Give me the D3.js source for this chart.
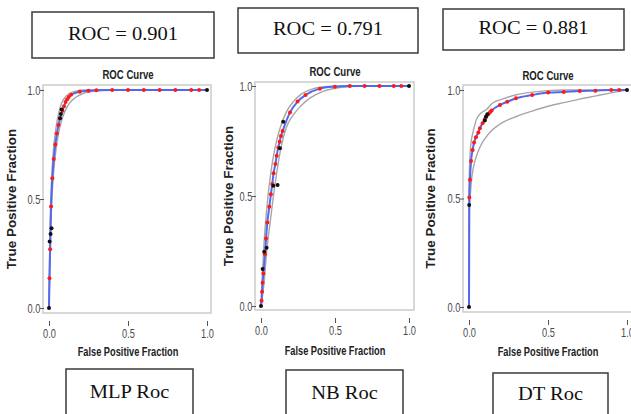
<!DOCTYPE html>
<html>
<head>
<meta charset="utf-8">
<script src="https://cdn.jsdelivr.net/npm/d3@7"></script>
<style>
  body { margin: 0; background: #fff; }
  svg { display: block; }
</style>
</head>
<body>
<svg id="chart"></svg>
<script>
// ---- data ----
const tickValues = [0, 0.5, 1];
const tickLabels = ["0.0", "0.5", "1.0"];
const rocLabels = ["ROC = 0.901", "ROC = 0.791", "ROC = 0.881"];
const modelLabels = ["MLP Roc", "NB Roc", "DT Roc"];

// MLP: [fpr, tpr]
const mlpRed = [[0.003,0.137],[0.007,0.27],[0.013,0.466],[0.021,0.595],[0.03,0.684],[0.04,0.75],[0.05,0.8],
  [0.06,0.84],[0.07,0.87],[0.085,0.905],[0.095,0.925],[0.105,0.945],[0.115,0.958],[0.125,0.968],[0.14,0.978],
  [0.195,0.992],[0.25,0.997],[0.3,0.999],[0.4,1],[0.5,1],[0.6,1],[0.7,1],[0.8,1],[0.9,1],[0.95,1]];
const mlpBlack = [[0,0],[0.004,0.305],[0.01,0.34],[0.016,0.366],[0.07,0.87],[0.075,0.89],[0.08,0.91],[1,1]];
const mlpUpper = [[0,0],[0.005,0.3],[0.012,0.5],[0.02,0.64],[0.03,0.74],[0.045,0.83],[0.06,0.89],[0.08,0.94],
  [0.1,0.965],[0.13,0.985],[0.17,0.995],[0.22,1],[1,1]];
const mlpLower = [[0,0],[0.005,0.17],[0.012,0.38],[0.02,0.52],[0.03,0.63],[0.045,0.73],[0.06,0.8],[0.08,0.86],
  [0.1,0.9],[0.13,0.94],[0.17,0.967],[0.22,0.985],[0.3,0.996],[0.4,1],[1,1]];

// NB
const nbRed = [[0.004,0.024],[0.007,0.065],[0.011,0.106],[0.016,0.148],[0.027,0.235],[0.034,0.307],[0.043,0.38],
  [0.056,0.451],[0.067,0.508],[0.076,0.555],[0.085,0.603],[0.097,0.645],[0.106,0.683],[0.117,0.721],[0.126,0.747],
  [0.135,0.773],[0.146,0.795],[0.196,0.88],[0.247,0.929],[0.301,0.959],[0.398,0.988],[0.499,0.997],[0.6,1],
  [0.7,1],[0.8,1],[0.897,1],[0.948,1]];
const nbBlack = [[0,0],[0.011,0.168],[0.022,0.247],[0.038,0.265],[0.083,0.547],[0.112,0.55],[0.128,0.717],
  [0.15,0.838],[1,1]];
const nbUpper = [[0,0],[0.01,0.15],[0.02,0.28],[0.04,0.45],[0.065,0.6],[0.095,0.72],[0.125,0.8],[0.17,0.88],
  [0.22,0.93],[0.27,0.962],[0.35,0.987],[0.45,0.998],[0.55,1],[1,1]];
const nbLower = [[0,0],[0.02,0.1],[0.04,0.26],[0.06,0.37],[0.08,0.48],[0.105,0.6],[0.135,0.72],[0.17,0.81],
  [0.22,0.87],[0.27,0.91],[0.33,0.945],[0.42,0.976],[0.5,0.99],[0.6,0.998],[0.7,1],[1,1]];

// DT
const dtRed = [[0.002,0.505],[0.006,0.586],[0.013,0.673],[0.023,0.724],[0.032,0.758],[0.044,0.782],[0.059,0.804],
  [0.069,0.824],[0.086,0.847],[0.1,0.865],[0.11,0.877],[0.122,0.888],[0.133,0.897],[0.143,0.905],[0.196,0.931],
  [0.242,0.946],[0.297,0.962],[0.4,0.977],[0.501,0.988],[0.6,0.991],[0.701,0.995],[0.8,0.997],[0.9,1],[0.95,1]];
const dtBlack = [[0,0],[0.001,0.47],[0.1,0.86],[0.107,0.877],[0.116,0.888],[1,1]];
const dtUpper = [[0,0],[0.001,0.56],[0.005,0.68],[0.012,0.75],[0.027,0.81],[0.045,0.86],[0.07,0.89],[0.11,0.91],
  [0.15,0.94],[0.22,0.96],[0.3,0.978],[0.4,0.99],[0.5,0.997],[0.6,1],[1,1]];
const dtLower = [[0,0],[0.001,0.42],[0.006,0.49],[0.015,0.58],[0.027,0.64],[0.045,0.69],[0.069,0.736],[0.1,0.775],
  [0.133,0.805],[0.217,0.852],[0.3,0.878],[0.4,0.903],[0.5,0.925],[0.6,0.942],[0.7,0.958],[0.806,0.973],[0.9,0.987],[1,1]];

// ---- layout ----
const panels = [
  { red: mlpRed, black: mlpBlack, upper: mlpUpper, lower: mlpLower,
    xr: [49, 207], yr: [308, 90], frame: [43, 211, 85, 313], titleY: 79, xlabY: 356, ylabX: 16 },
  { red: nbRed, black: nbBlack, upper: nbUpper, lower: nbLower,
    xr: [261, 409], yr: [306, 86], frame: [255, 414, 82, 310], titleY: 76, xlabY: 355, ylabX: 233 },
  { red: dtRed, black: dtBlack, upper: dtUpper, lower: dtLower,
    xr: [469, 627], yr: [307, 90], frame: [463, 633, 85, 312], titleY: 80, xlabY: 356, ylabX: 435 }
];
const topBoxes = [
  { x: 32, y: 12, w: 182, h: 46, ty: 40 },
  { x: 238, y: 8, w: 180, h: 45, ty: 35 },
  { x: 443, y: 9, w: 181, h: 41, ty: 34 }
];
const bottomBoxes = [
  { x: 66, y: 369, w: 127, h: 60, ty: 398 },
  { x: 286, y: 370, w: 117, h: 60, ty: 399 },
  { x: 493, y: 373, w: 115, h: 60, ty: 400 }
];

const svg = d3.select('#chart')
  .attr('width', 631)
  .attr('height', 414);

const sansFont = '"Liberation Sans", Arial, sans-serif';
const serifFont = '"Liberation Serif", "Times New Roman", serif';

function drawPanel(p) {
  const x = d3.scaleLinear().domain([0, 1]).range(p.xr);
  const y = d3.scaleLinear().domain([0, 1]).range(p.yr);
  const g = svg.append('g');

  g.append('rect')
    .attr('x', p.frame[0])
    .attr('y', p.frame[2])
    .attr('width', p.frame[1] - p.frame[0])
    .attr('height', p.frame[3] - p.frame[2])
    .attr('fill', 'none')
    .attr('stroke', '#cfcfcf')
    .attr('stroke-width', 1.6);

  const line = d3.line()
    .x(d => x(d[0]))
    .y(d => y(d[1]))
    .curve(d3.curveMonotoneX);

  // confidence band
  [p.upper, p.lower].forEach(band => {
    g.append('path')
      .datum(band)
      .attr('d', line)
      .attr('fill', 'none')
      .attr('stroke', '#a6a6a6')
      .attr('stroke-width', 1.4);
  });

  // fitted curve
  g.append('path')
    .datum([[0, 0], ...p.red, [1, 1]])
    .attr('d', line)
    .attr('fill', 'none')
    .attr('stroke', '#5466f2')
    .attr('stroke-width', 2);

  g.selectAll('circle.red')
    .data(p.red)
    .join('circle')
    .attr('class', 'red')
    .attr('cx', d => x(d[0]))
    .attr('cy', d => y(d[1]))
    .attr('r', 2)
    .attr('fill', '#ff1a1a');

  g.selectAll('circle.black')
    .data(p.black)
    .join('circle')
    .attr('class', 'black')
    .attr('cx', d => x(d[0]))
    .attr('cy', d => y(d[1]))
    .attr('r', 2)
    .attr('fill', '#111');

  // axes
  const xAxis = g.append('g')
    .attr('transform', `translate(0,${p.frame[3] + 8})`)
    .call(d3.axisBottom(x).tickValues(tickValues).tickFormat((v, i) => tickLabels[i]).tickSize(5).tickPadding(3));
  const yAxis = g.append('g')
    .attr('transform', `translate(${p.frame[0] + 1},0)`)
    .call(d3.axisLeft(y).tickValues(tickValues).tickFormat((v, i) => tickLabels[i]).tickSize(4).tickPadding(1));

  [xAxis, yAxis].forEach(a => {
    a.select('.domain').remove();
    a.selectAll('line').attr('stroke', '#555').attr('stroke-width', 1);
    a.selectAll('text')
      .attr('fill', '#4a4a4a')
      .style('font-family', sansFont)
      .style('font-size', '12.5px')
      .attr('transform', 'scale(0.74,1)');
  });
  yAxis.selectAll('text').attr('dy', '0.35em');

  const cx = (p.xr[0] + p.xr[1]) / 2;
  const cy = (p.yr[0] + p.yr[1]) / 2;

  g.append('text')
    .attr('transform', `translate(${cx},${p.titleY}) scale(0.8,1)`)
    .attr('text-anchor', 'middle')
    .style('font-family', sansFont)
    .style('font-size', '12px')
    .style('font-weight', 'bold')
    .attr('fill', '#222')
    .text('ROC Curve');

  g.append('text')
    .attr('transform', `translate(${cx},${p.xlabY}) scale(0.74,1)`)
    .attr('text-anchor', 'middle')
    .style('font-family', sansFont)
    .style('font-size', '12.5px')
    .style('font-weight', 'bold')
    .attr('fill', '#222')
    .text('False Positive Fraction');

  g.append('text')
    .attr('transform', `translate(${p.ylabX},${cy}) rotate(-90) scale(1.12,1)`)
    .attr('text-anchor', 'middle')
    .style('font-family', sansFont)
    .style('font-size', '12px')
    .style('font-weight', 'bold')
    .attr('fill', '#222')
    .text('True Positive Fraction');
}

panels.forEach(drawPanel);

// labelled boxes above and below
function drawBoxes(boxes, labels) {
  const g = svg.append('g');
  boxes.forEach((b, i) => {
    g.append('rect')
      .attr('x', b.x)
      .attr('y', b.y)
      .attr('width', b.w)
      .attr('height', b.h)
      .attr('fill', '#fff')
      .attr('stroke', '#3a3a3a')
      .attr('stroke-width', 1.5);
    g.append('text')
      .attr('transform', `translate(${b.x + b.w / 2},${b.ty}) scale(1.08,1)`)
      .attr('text-anchor', 'middle')
      .style('font-family', serifFont)
      .style('font-size', '19px')
      .attr('fill', '#111')
      .text(labels[i]);
  });
}

drawBoxes(topBoxes, rocLabels);
drawBoxes(bottomBoxes, modelLabels);
</script>
</body>
</html>
